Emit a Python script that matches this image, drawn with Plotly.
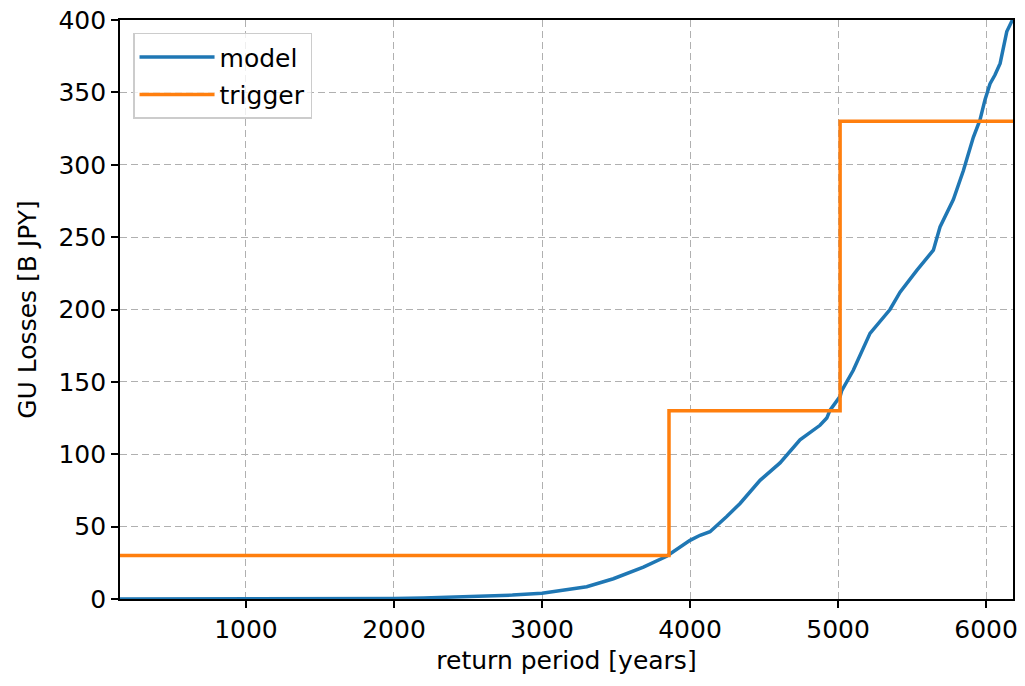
import plotly.graph_objects as go

# model curve: return period [years] vs GU losses [B JPY]
model_x = [149, 500, 1000, 1500, 2000, 2200, 2432, 2703, 2800, 3000, 3150, 3302, 3482,
           3685, 3842, 3932, 4000, 4068, 4135, 4248, 4338, 4473, 4608, 4743, 4878,
           4924, 4946, 5014, 5025, 5103, 5216, 5351, 5419, 5532, 5644, 5689, 5779,
           5847, 5914, 5959, 5993, 6027, 6060, 6095, 6117, 6140, 6173, 6182]
model_y = [0.0, 0.0, 0.0, 0.1, 0.3, 0.7, 1.4, 2.2, 2.7, 4.0, 6.0, 8.5, 14.0,
           22.0, 29.5, 36.0, 40.5, 44.0, 46.5, 57.0, 66.0, 82.0, 94.0, 110.0, 120.0,
           125.0, 130.5, 140.0, 144.0, 158.0, 183.5, 200.0, 212.0, 227.0, 241.0, 257.0, 276.0,
           296.0, 319.0, 331.0, 345.0, 356.0, 362.0, 370.0, 382.0, 392.0, 399.0, 401.0]

# trigger step levels
trigger_x = [149, 3858, 5014, 6182]
trigger_y = [30, 130, 330, 330]

x_range = [149, 6182]
y_range = [0, 400]
x_ticks = [1000, 2000, 3000, 4000, 5000, 6000]
y_ticks = [0, 50, 100, 150, 200, 250, 300, 350, 400]

FONT = "DejaVu Sans"
FS = 25

fig = go.Figure()
fig.add_trace(go.Scatter(x=model_x, y=model_y, mode="lines", name="model",
                         line=dict(color="#1f77b4", width=3.5), legendgroup="a"))
fig.add_trace(go.Scatter(x=trigger_x, y=trigger_y, mode="lines", name="trigger",
                         line=dict(color="#ff7f0e", width=3.5, shape="hv"), legendgroup="b"))

axis_common = dict(
    showline=True, linecolor="black", linewidth=1.8, mirror=True,
    ticks="outside", ticklen=7, tickwidth=1.8, tickcolor="black",
    showgrid=True, gridcolor="#b0b0b0", gridwidth=1.3, griddash="7px,4px",
    zeroline=False, automargin=False, ticklabeloverflow="allow",
    tickfont=dict(family=FONT, size=FS, color="black"),
)

fig.update_xaxes(range=x_range, tickvals=x_ticks, **axis_common,
                 title=dict(text="return period [years]", font=dict(family=FONT, size=FS, color="black"),
                            standoff=9))
fig.update_yaxes(range=y_range, tickvals=y_ticks, **axis_common,
                 title=dict(text="GU Losses [B JPY]", font=dict(family=FONT, size=FS, color="black"),
                            standoff=15))

fig.update_layout(
    width=1025, height=686,
    margin=dict(l=120, r=12, t=20, b=87),
    plot_bgcolor="white", paper_bgcolor="white",
    font=dict(family=FONT, color="black"),
    hovermode=False,
    legend=dict(x=0.0146, y=0.978, xanchor="left", yanchor="top",
                bgcolor="rgba(255,255,255,0.8)", bordercolor="#cccccc", borderwidth=1.5,
                font=dict(family=FONT, size=FS, color="black"),
                tracegroupgap=2, itemwidth=75),
)

# remove the default page margin so the figure fills the window exactly
fig.write_html("out.html", config={"displayModeBar": False},
               post_script="document.body.style.margin='0';document.body.style.overflow='hidden';")
